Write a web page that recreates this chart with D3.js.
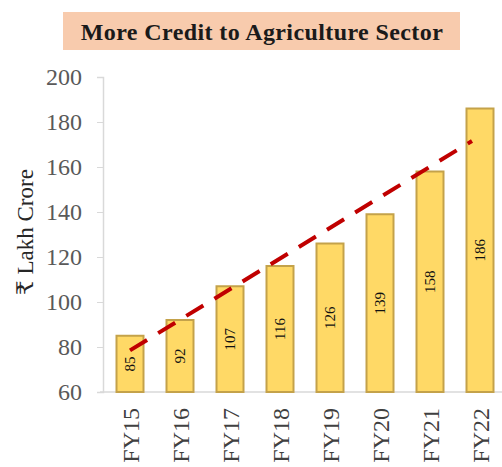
<!DOCTYPE html>
<html>
<head>
<meta charset="utf-8">
<script src="https://cdn.jsdelivr.net/npm/d3@7"></script>
<style>
  body { margin: 0; background: #fff; overflow: hidden; }
  text { font-family: "Liberation Serif", "DejaVu Serif", serif; }
</style>
</head>
<body>
<script>
//chart data
var years = ["FY15", "FY16", "FY17", "FY18", "FY19", "FY20", "FY21", "FY22"];
var credit = [85, 92, 107, 116, 126, 139, 158, 186];
var yTicks = [60, 80, 100, 120, 140, 160, 180, 200];

var w = 502, h = 467;

var svg = d3.select("body").append("svg")
    .attr("width", w)
    .attr("height", h);

//title box
svg.append("rect")
    .attr("x", 63).attr("y", 12)
    .attr("width", 397).attr("height", 38)
    .style("fill", "#F8CBAD");

svg.append("text")
    .attr("x", 262).attr("y", 40)
    .attr("text-anchor", "middle")
    .style("font-size", "24px")
    .style("letter-spacing", "0.4px")
    .style("font-weight", "bold")
    .style("fill", "#1a1a1a")
    .text("More Credit to Agriculture Sector");

//scales
var x = d3.scaleBand()
    .domain(years)
    .range([105, 505])
    .paddingInner(0.46)
    .paddingOuter(0.23);

var y = d3.scaleLinear()
    .domain([60, 200])
    .range([392, 77]);

//y axis
var yAxis = svg.append("g")
    .attr("transform", "translate(103,0)")
    .call(d3.axisLeft(y).tickValues(yTicks).tickSize(6).tickPadding(15));
yAxis.select(".domain").style("stroke", "#d9d9d9").style("stroke-width", 1.5);
yAxis.selectAll(".tick line").style("stroke", "#d9d9d9");
yAxis.selectAll(".tick text")
    .style("font-size", "24px")
    .style("fill", "#595959")
    .style("font-family", "Liberation Serif, serif");

//x axis line
svg.append("line")
    .attr("x1", 100).attr("x2", w)
    .attr("y1", y(60)).attr("y2", y(60))
    .style("stroke", "#d9d9d9").style("stroke-width", 1.5);

//y title
svg.append("text")
    .attr("transform", "translate(33," + 232 + ") rotate(-90)")
    .attr("text-anchor", "middle")
    .style("font-size", "23px")
    .style("fill", "#262626")
    .text("₹ Lakh Crore");

//bars
svg.selectAll(".bar")
    .data(credit)
    .enter()
    .append("rect")
    .attr("class", "bar")
    .attr("x", function(d, i){ return x(years[i]); })
    .attr("y", function(d){ return y(d); })
    .attr("width", x.bandwidth())
    .attr("height", function(d){ return y(60) - y(d); })
    .style("fill", "#FFD966")
    .style("stroke", "#C4A24A")
    .style("stroke-width", 2);

//value labels inside bars
svg.selectAll(".val")
    .data(credit)
    .enter()
    .append("text")
    .attr("class", "val")
    .attr("transform", function(d, i){
        var cx = x(years[i]) + x.bandwidth() / 2;
        var cy = (y(d) + y(60)) / 2;
        return "translate(" + (cx + 5) + "," + cy + ") rotate(-90)";
    })
    .attr("text-anchor", "middle")
    .style("font-size", "15px")
    .style("fill", "#111")
    .text(function(d){ return d; });

//linear trend line from the data
var n = credit.length;
var mx = d3.mean(credit, function(d, i){ return i; });
var my = d3.mean(credit);
var num = d3.sum(credit, function(d, i){ return (i - mx) * (d - my); });
var den = d3.sum(credit, function(d, i){ return (i - mx) * (i - mx); });
var slope = num / den, icpt = my - slope * mx;
var iEnd = n - 1 - 0.16;

svg.append("line")
    .attr("x1", x(years[0]) + x.bandwidth() / 2)
    .attr("y1", y(icpt))
    .attr("x2", x(years[0]) + x.bandwidth() / 2 + iEnd * x.step())
    .attr("y2", y(icpt + slope * iEnd))
    .style("stroke", "#C00000")
    .style("stroke-width", 4)
    .style("stroke-dasharray", "20,13");

//x labels
svg.selectAll(".xlab")
    .data(years)
    .enter()
    .append("text")
    .attr("class", "xlab")
    .attr("transform", function(d){
        var cx = x(d) + x.bandwidth() / 2;
        return "translate(" + (cx + 9) + "," + 408 + ") rotate(-90)";
    })
    .attr("text-anchor", "end")
    .style("font-size", "24px")
    .style("fill", "#404040")
    .text(function(d){ return d; });
</script>
</body>
</html>
